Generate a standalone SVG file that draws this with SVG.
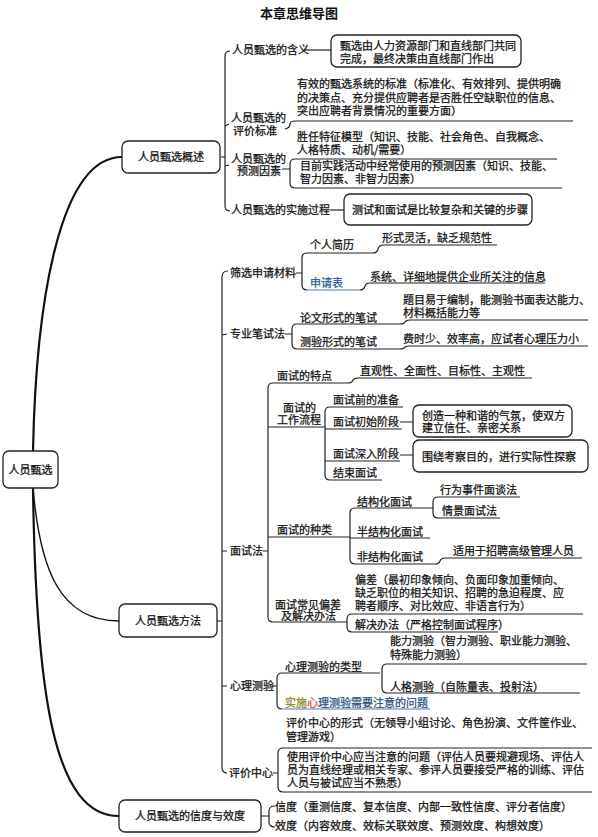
<svg xmlns="http://www.w3.org/2000/svg" width="598" height="837" viewBox="0 0 598 837">
<style>
.t{font-family:"Noto Sans CJK SC","Noto Sans",sans-serif;font-size:11px;fill:#111;stroke:#111;stroke-width:0.25}
.m{text-anchor:middle}
.ttl{font-family:"Noto Sans CJK SC","Noto Sans",sans-serif;font-size:13px;font-weight:bold;fill:#111;text-anchor:middle}
.ln{fill:none;stroke:#222;stroke-width:1.2}
.thk{fill:none;stroke:#111;stroke-width:2.2}
.mid{fill:none;stroke:#111;stroke-width:1.4}
.box{fill:#fff;stroke:#222;stroke-width:1.3}
.blue{fill:#2d5b94;stroke:#2d5b94}
.bl{stroke:#5a7aa0}
</style>
<rect width="598" height="837" fill="#fff"/>
<text class="ttl" x="299" y="18">本章思维导图</text>

<g id="connectors">
  <path class="thk" d="M33,451 C36,300 60,157 122,157"/>
  <path class="mid" d="M33,488 C40,570 60,621 119,621"/>
  <path class="thk" d="M33,488 C36,700 55,816 119,816"/>
  <path class="ln" d="M230,51 Q225,51 225,56 L225,206 Q225,211 230,211"/>
  <path class="ln" d="M221,157 L225,157 M225,126 L229,124 M225,166 L229,165"/>
  <path class="ln" d="M304,50 L331,50"/>
  <path class="ln" d="M285,129 Q290,128 290,124 Q290,121 295,121 L573,121"/>
  <path class="ln" d="M282,169 L290,169 M557,159 L295,159 Q290,159 290,164 L290,183 Q290,188 295,188 L562,188"/>
  <path class="ln" d="M330,210 L344,210"/>
  <path class="ln" d="M228,271 Q222,271 222,277 L222,767 Q222,773 227,773"/>
  <path class="ln" d="M217,621 L222,621 M222,335 L227,334 M222,551 L227,551 M222,686 L227,686"/>
  <path class="ln" d="M296,273 L302,273 M373,253 L307,253 Q302,253 302,258 L302,285 Q302,290 307,290"/>
  <path class="ln bl" d="M307,290 L360,290"/>
  <path class="ln" d="M373,253 Q377,253 378,249 Q379,245 384,245 L497,245"/>
  <path class="ln" d="M360,290 Q364,290 365,286 Q366,283 370,283 L545,283"/>
  <path class="ln" d="M285,334 L292,334 M400,324 L297,324 Q292,324 292,329 L292,344 Q292,349 297,349 L400,349"/>
  <path class="ln" d="M400,324 Q404,324 405,322 Q406,320 410,320 L588,320"/>
  <path class="ln" d="M400,349 Q404,349 405,347 Q406,346 410,346 L588,346"/>
  <path class="ln" d="M263,551 L268,551 M348,383 L273,383 Q268,383 268,388 L268,617 Q268,622 273,622 L347,622"/>
  <path class="ln" d="M348,383 Q352,383 353,380 Q354,378 358,378 L532,378"/>
  <path class="ln" d="M268,427 L325,427 M403,407 L330,407 Q325,407 325,412 L325,475 Q325,480 330,480 L382,480"/>
  <path class="ln" d="M325,429 L402,429 M325,461 L400,461 M400,422 L413,422 M400,455 L413,455"/>
  <path class="ln" d="M268,537 L350,537 M433,508 L355,508 Q350,508 350,513 L350,559 Q350,564 355,564 L435,564 M350,538 L430,538"/>
  <path class="ln" d="M520,497 L438,497 Q433,497 433,502 L433,513 Q433,518 438,518 L500,518"/>
  <path class="ln" d="M435,564 Q439,564 440,561 Q441,558 445,558 L582,558"/>
  <path class="ln" d="M583,614 L352,614 Q347,614 347,619 L347,627 Q347,632 352,632 L498,632"/>
  <path class="ln" d="M271,686 L277,686 M380,673 L282,673 Q277,673 277,678 L277,704 Q277,709 282,709"/>
  <path class="ln bl" d="M282,709 L430,709"/>
  <path class="ln" d="M587,664 L387,664 Q382,664 382,669 L382,688 Q382,693 387,693 L580,693"/>
  <path class="ln" d="M273,773 L278,773 M592,748 L283,748 Q278,748 278,753 L278,787 Q278,792 283,792 L592,792"/>
  <path class="ln" d="M261,816 L269,816 M275,806 Q269,806 269,811 L269,822 Q269,827 275,827"/>
</g>

<g id="root">
  <rect class="box" x="3" y="451" width="55" height="37" rx="6"/>
  <text class="t m" x="30.5" y="474">人员甄选</text>
</g>

<g id="overview">
  <rect class="box" x="122" y="141" width="98" height="32" rx="6"/>
  <text class="t m" x="171" y="161">人员甄选概述</text>
</g>
<g id="meaning">
  <text class="t" x="232" y="54">人员甄选的含义</text>
  <rect class="box" x="331" y="35" width="190" height="32" rx="6"/>
  <text class="t"><tspan x="340" y="50">甄选由人力资源部门和直线部门共同</tspan><tspan x="340" y="63">完成，最终决策由直线部门作出</tspan></text>
</g>
<g id="eval-standard">
  <text class="t"><tspan x="231" y="122">人员甄选的</tspan><tspan x="233" y="135">评价标准</tspan></text>
  <text class="t"><tspan x="297" y="88">有效的甄选系统的标准（标准化、有效排列、提供明确</tspan><tspan x="297" y="101.5">的决策点、充分提供应聘者是否胜任空缺职位的信息、</tspan><tspan x="297" y="115">突出应聘者背景情况的重要方面）</tspan></text>
</g>
<g id="predict">
  <text class="t"><tspan x="231" y="163">人员甄选的</tspan><tspan x="237" y="175">预测因素</tspan></text>
  <text class="t"><tspan x="297" y="141">胜任特征模型（知识、技能、社会角色、自我概念、</tspan><tspan x="297" y="154">人格特质、动机/需要）</tspan></text>
  <text class="t"><tspan x="300" y="170">目前实践活动中经常使用的预测因素（知识、技能、</tspan><tspan x="300" y="183">智力因素、非智力因素）</tspan></text>
</g>
<g id="process">
  <text class="t" x="231" y="214">人员甄选的实施过程</text>
  <rect class="box" x="344" y="194" width="188" height="31" rx="6"/>
  <text class="t" x="352" y="214">测试和面试是比较复杂和关键的步骤</text>
</g>

<g id="methods">
  <rect class="box" x="119" y="604" width="98" height="33" rx="6"/>
  <text class="t m" x="168" y="625">人员甄选方法</text>
</g>
<g id="screening">
  <text class="t" x="230" y="277">筛选申请材料</text>
  <text class="t" x="310" y="249">个人简历</text>
  <text class="t" x="382" y="242">形式灵活，缺乏规范性</text>
  <text class="t blue" x="310" y="287">申请表</text>
  <text class="t" x="370" y="281">系统、详细地提供企业所关注的信息</text>
</g>
<g id="written">
  <text class="t" x="230" y="338">专业笔试法</text>
  <text class="t" x="300" y="322">论文形式的笔试</text>
  <text class="t"><tspan x="403" y="304">题目易于编制，能测验书面表达能力、</tspan><tspan x="403" y="317">材料概括能力等</tspan></text>
  <text class="t" x="300" y="346">测验形式的笔试</text>
  <text class="t" x="403" y="343">费时少、效率高，应试者心理压力小</text>
</g>
<g id="interview">
  <text class="t" x="230" y="555">面试法</text>
  <text class="t" x="277" y="380">面试的特点</text>
  <text class="t" x="360" y="375">直观性、全面性、目标性、主观性</text>
  <text class="t"><tspan x="283" y="412">面试的</tspan><tspan x="277" y="424">工作流程</tspan></text>
  <text class="t" x="333" y="404">面试前的准备</text>
  <text class="t" x="333" y="426">面试初始阶段</text>
  <rect class="box" x="413" y="405" width="159" height="32" rx="6"/>
  <text class="t"><tspan x="422" y="420">创造一种和谐的气氛，使双方</tspan><tspan x="422" y="432">建立信任、亲密关系</tspan></text>
  <text class="t" x="333" y="458">面试深入阶段</text>
  <rect class="box" x="413" y="440" width="175" height="32" rx="6"/>
  <text class="t" x="422" y="461">围绕考察目的，进行实际性探察</text>
  <text class="t" x="333" y="477">结束面试</text>
  <text class="t" x="277" y="534">面试的种类</text>
  <text class="t" x="357" y="506">结构化面试</text>
  <text class="t" x="440" y="494">行为事件面谈法</text>
  <text class="t" x="442" y="515">情景面试法</text>
  <text class="t" x="357" y="536">半结构化面试</text>
  <text class="t" x="357" y="561">非结构化面试</text>
  <text class="t" x="453" y="555">适用于招聘高级管理人员</text>
  <text class="t"><tspan x="275" y="609">面试常见偏差</tspan><tspan x="281" y="620">及解决办法</tspan></text>
  <text class="t"><tspan x="355" y="584">偏差（最初印象倾向、负面印象加重倾向、</tspan><tspan x="355" y="597">缺乏职位的相关知识、招聘的急迫程度、应</tspan><tspan x="355" y="610">聘者顺序、对比效应、非语言行为）</tspan></text>
  <text class="t" x="355" y="629">解决办法（严格控制面试程序）</text>
</g>
<g id="psych">
  <text class="t" x="230" y="690">心理测验</text>
  <text class="t" x="285" y="671">心理测验的类型</text>
  <text class="t"><tspan x="390" y="645">能力测验（智力测验、职业能力测验、</tspan><tspan x="390" y="659">特殊能力测验）</tspan></text>
  <text class="t" x="390" y="691">人格测验（自陈量表、投射法）</text>
  <text class="t" x="285" y="707"><tspan fill="#8a8a2a" stroke="#8a8a2a">实施</tspan><tspan fill="#c8502a" stroke="#c8502a">心</tspan><tspan fill="#2d4f7e" stroke="#2d4f7e">理测验需要注意的问题</tspan></text>
</g>
<g id="assessment">
  <text class="t" x="229" y="777">评价中心</text>
  <text class="t"><tspan x="286" y="727">评价中心的形式（无领导小组讨论、角色扮演、文件筐作业、</tspan><tspan x="286" y="741">管理游戏）</tspan></text>
  <text class="t"><tspan x="287" y="761">使用评价中心应当注意的问题（评估人员要规避现场、评估人</tspan><tspan x="287" y="774">员为直线经理或相关专家、参评人员要接受严格的训练、评估</tspan><tspan x="287" y="787">人员与被试应当不熟悉）</tspan></text>
</g>
<g id="reliability">
  <rect class="box" x="119" y="800" width="142" height="32" rx="6"/>
  <text class="t m" x="190" y="820">人员甄选的信度与效度</text>
  <text class="t" x="275" y="811">信度（重测信度、复本信度、内部一致性信度、评分者信度）</text>
  <text class="t" x="275" y="830">效度（内容效度、效标关联效度、预测效度、构想效度）</text>
</g>
</svg>
